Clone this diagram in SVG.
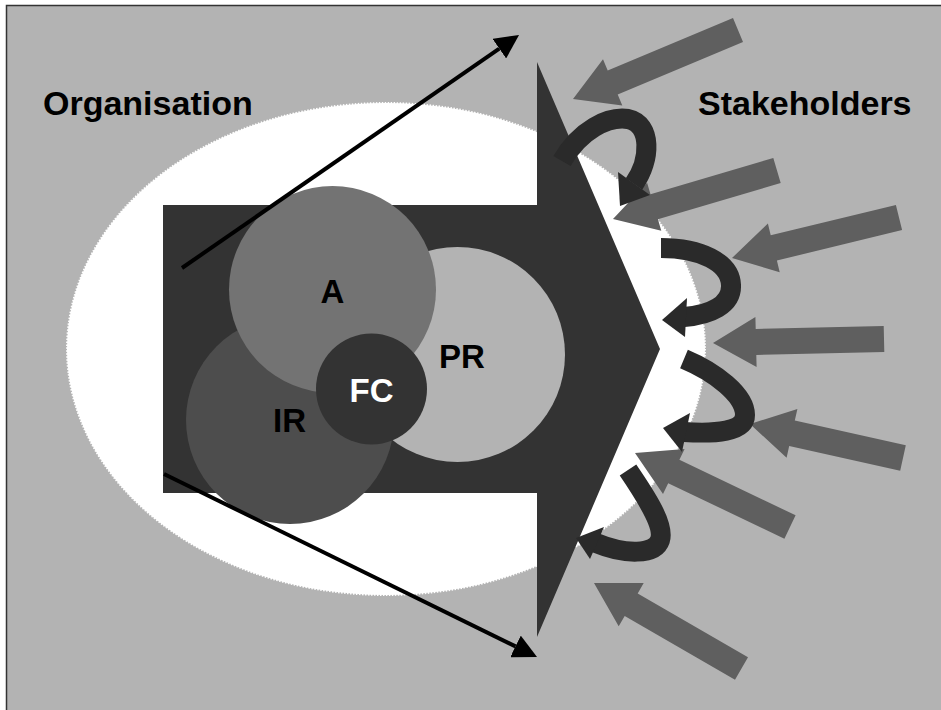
<svg xmlns="http://www.w3.org/2000/svg" width="941" height="710" viewBox="0 0 941 710">
<style>
.title{font-family:"Liberation Sans",Arial,sans-serif;font-weight:bold;font-size:34px;fill:#000}
.lbl{font-family:"Liberation Sans",Arial,sans-serif;font-weight:bold;font-size:33px;text-anchor:middle}
.sh{fill:#5f5f5f}
.curl{fill:none;stroke:#2a2a2a;stroke-width:20}
.curlhead{fill:#2a2a2a}
.bl{stroke:#000;stroke-width:4;fill:none}
</style>
<defs>
<marker id="ah" markerUnits="userSpaceOnUse" markerWidth="24" markerHeight="24" refX="0" refY="12" orient="auto" viewBox="0 0 24 24">
<path d="M0,0 L24,12 L0,24 z" fill="#000"/>
</marker>
</defs>
<rect x="0" y="0" width="941" height="710" fill="#fff"/>
<rect x="6.5" y="5.5" width="940" height="710" fill="#b3b3b3" stroke="#333" stroke-width="1.5"/>
<g id="organisation-area">
<ellipse cx="386" cy="349" rx="319" ry="246" fill="#fff" stroke="#fff" stroke-width="2" stroke-dasharray="1.5 1.5"/>
</g>
<g id="big-arrow">
<polygon points="163,205 537,205 537,62 660,349 537,637 537,493 163,493" fill="#333"/>
</g>
<g id="node-IR">
<circle cx="290" cy="420" r="104" fill="#4d4d4d"/>
</g>
<g id="node-PR">
<circle cx="457.5" cy="354.5" r="107.5" fill="#b3b3b3"/>
</g>
<g id="node-A">
<circle cx="332.5" cy="289.5" r="103.5" fill="#737373"/>
</g>
<g id="node-FC">
<circle cx="371.5" cy="389" r="55.5" fill="#333"/>
</g>
<g id="labels">
<text class="lbl" x="332.5" y="302.5" fill="#000">A</text>
<text class="lbl" x="289.5" y="431.5" fill="#000">IR</text>
<text class="lbl" x="462" y="368" fill="#000">PR</text>
<text class="lbl" x="371.5" y="401.5" fill="#fff">FC</text>
<text class="title" x="43" y="115">Organisation</text>
<text class="title" x="698" y="115">Stakeholders</text>
</g>
<g id="connectors">
<path class="bl" d="M182,268 L499.3,48.6" marker-end="url(#ah)"/>
<path class="bl" d="M164,474 L515.5,646.4" marker-end="url(#ah)"/>
<g id="stakeholder-arrows">
<polygon class="sh" points="733,18 607.7,70.4 603,59.3 573,99 622.3,105.5 617.7,94.4 743,42"/>
<polygon class="sh" points="773.3,158 650.5,194.3 647.1,182.8 613,219 661.3,230.8 657.9,219.3 780.7,183"/>
<polygon class="sh" points="895.9,204.9 770.7,235.3 767.9,223.6 732,258 779.7,272.2 776.9,260.5 902.1,230.1"/>
<polygon class="sh" points="883.7,326 755.7,329 755.4,317 713,343 756.6,367 756.3,355 884.3,352"/>
<polygon class="sh" points="905.8,445.3 794.8,420.6 797.4,408.9 750,424 786.6,457.7 789.2,446 900.2,470.7"/>
<polygon class="sh" points="795.6,515.3 679.4,459.8 684.6,448.9 635,453 663,494.1 668.2,483.2 784.4,538.7"/>
<polygon class="sh" points="748,657.3 637.7,593.4 643.7,583 594,583 618.7,626.2 624.7,615.9 735,679.8"/>
</g>
<g id="curls">
<path class="curl" d="M562,161 C580,130 608,116 628,119 C652,124 651,160 634,184"/>
<polygon class="curlhead" points="620,206 618,172 650,195"/>
<path class="curl" d="M661,248 C700,248 730,262 731,285 C732,305 710,315 684,317"/>
<polygon class="curlhead" points="662,320 687,298 685,337"/>
<path class="curl" d="M684,359 C715,372 745,395 745,415 C745,432 715,434 684,432"/>
<polygon class="curlhead" points="663,428 690,413 682,452"/>
<path class="curl" d="M628,470 C645,495 665,525 660,540 C655,555 625,555 596,543"/>
<polygon class="curlhead" points="576,538 604,527 590,559"/>
</g>
</g>
</svg>
